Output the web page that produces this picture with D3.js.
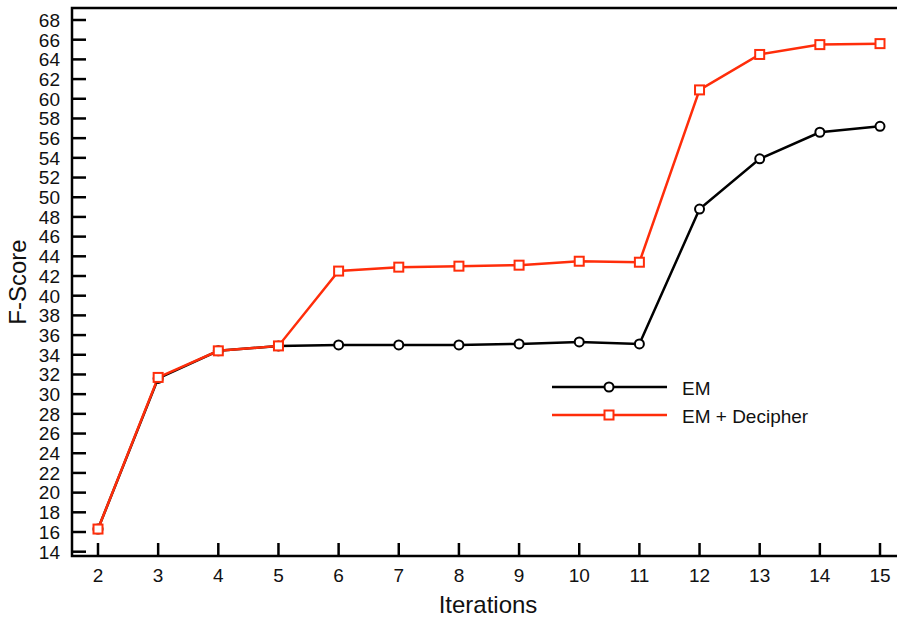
<!DOCTYPE html>
<html>
<head>
<meta charset="utf-8">
<script src="https://cdn.jsdelivr.net/npm/d3@7"></script>
<style>
  body { margin: 0; background: #fff; }
  text { font-family: "Liberation Sans", Arial, sans-serif; }
</style>
</head>
<body>
<div id="chart"></div>
<script>
// data
const iterations = [2, 3, 4, 5, 6, 7, 8, 9, 10, 11, 12, 13, 14, 15];
const emScores = [16.3, 31.6, 34.4, 34.9, 35.0, 35.0, 35.0, 35.1, 35.3, 35.1, 48.8, 53.9, 56.6, 57.2];
const decipherScores = [16.3, 31.7, 34.4, 34.9, 42.5, 42.9, 43.0, 43.1, 43.5, 43.4, 60.9, 64.5, 65.5, 65.6];
const yTicks = d3.range(14, 69, 2);
const seriesNames = ["EM", "EM + Decipher"];

const width = 897, height = 617;
const red = "#ff2d0a";

const svg = d3.select("#chart").append("svg")
  .attr("width", width)
  .attr("height", height);

// scales
const x = d3.scaleLinear().domain([2, 15]).range([98, 880]);
const y = d3.scaleLinear().domain([14, 68]).range([551.7, 20]);

const frameLeft = 72, frameTop = 8, frameBottom = 556, frameRight = 905;

// frame
svg.append("path")
  .attr("d", `M${frameRight},${frameTop}H${frameLeft}V${frameBottom}H${frameRight}`)
  .attr("fill", "none")
  .attr("stroke", "#000")
  .attr("stroke-width", 2.5);

// y ticks (inward)
const yAxis = svg.append("g");
yAxis.selectAll("line").data(yTicks).join("line")
  .attr("x1", frameLeft).attr("x2", frameLeft + 14)
  .attr("y1", d => y(d)).attr("y2", d => y(d))
  .attr("stroke", "#000").attr("stroke-width", 2.5);
yAxis.selectAll("text").data(yTicks).join("text")
  .attr("x", 60).attr("y", d => y(d))
  .attr("dy", "0.36em")
  .attr("text-anchor", "end")
  .style("font-size", "19px")
  .style("fill", "#111")
  .text(d => d);

// x ticks (inward)
const xAxis = svg.append("g");
xAxis.selectAll("line").data(iterations).join("line")
  .attr("x1", d => x(d)).attr("x2", d => x(d))
  .attr("y1", frameBottom).attr("y2", frameBottom - 13)
  .attr("stroke", "#000").attr("stroke-width", 2.5);
xAxis.selectAll("text").data(iterations).join("text")
  .attr("x", d => x(d)).attr("y", 582)
  .attr("text-anchor", "middle")
  .style("font-size", "19px")
  .style("fill", "#111")
  .text(d => d);

// axis titles
svg.append("text")
  .attr("x", 488).attr("y", 613)
  .attr("text-anchor", "middle")
  .style("font-size", "24px")
  .style("fill", "#111")
  .text("Iterations");

svg.append("text")
  .attr("transform", "translate(26,282) rotate(-90)")
  .attr("text-anchor", "middle")
  .style("font-size", "24px")
  .style("fill", "#111")
  .text("F-Score");

const line = d3.line()
  .x((d, i) => x(iterations[i]))
  .y(d => y(d));

// EM series
svg.append("path")
  .datum(emScores)
  .attr("d", line)
  .attr("fill", "none")
  .attr("stroke", "#000")
  .attr("stroke-width", 2.5);

// EM + Decipher series
svg.append("path")
  .datum(decipherScores)
  .attr("d", line)
  .attr("fill", "none")
  .attr("stroke", red)
  .attr("stroke-width", 2.5);

svg.append("g").selectAll("circle").data(emScores).join("circle")
  .attr("cx", (d, i) => x(iterations[i]))
  .attr("cy", d => y(d))
  .attr("r", 4.5)
  .attr("fill", "#fff")
  .attr("stroke", "#000")
  .attr("stroke-width", 2);

svg.append("g").selectAll("rect").data(decipherScores).join("rect")
  .attr("x", (d, i) => x(iterations[i]) - 4.5)
  .attr("y", d => y(d) - 4.5)
  .attr("width", 9).attr("height", 9)
  .attr("fill", "#fff")
  .attr("stroke", red)
  .attr("stroke-width", 2);

// legend
const legend = svg.append("g");
const legendY = [387, 415];
const legendColors = ["#000", red];
seriesNames.forEach((name, i) => {
  legend.append("line")
    .attr("x1", 552).attr("x2", 667)
    .attr("y1", legendY[i]).attr("y2", legendY[i])
    .attr("stroke", legendColors[i])
    .attr("stroke-width", 2.5);
  if (i === 0) {
    legend.append("circle")
      .attr("cx", 609).attr("cy", legendY[i]).attr("r", 4.5)
      .attr("fill", "#fff").attr("stroke", "#000").attr("stroke-width", 2);
  } else {
    legend.append("rect")
      .attr("x", 609 - 4.5).attr("y", legendY[i] - 4.5)
      .attr("width", 9).attr("height", 9)
      .attr("fill", "#fff").attr("stroke", red).attr("stroke-width", 2);
  }
  legend.append("text")
    .attr("x", 682).attr("y", legendY[i] + 8)
    .style("font-size", "19px")
    .style("fill", "#111")
    .text(name);
});
</script>
</body>
</html>
